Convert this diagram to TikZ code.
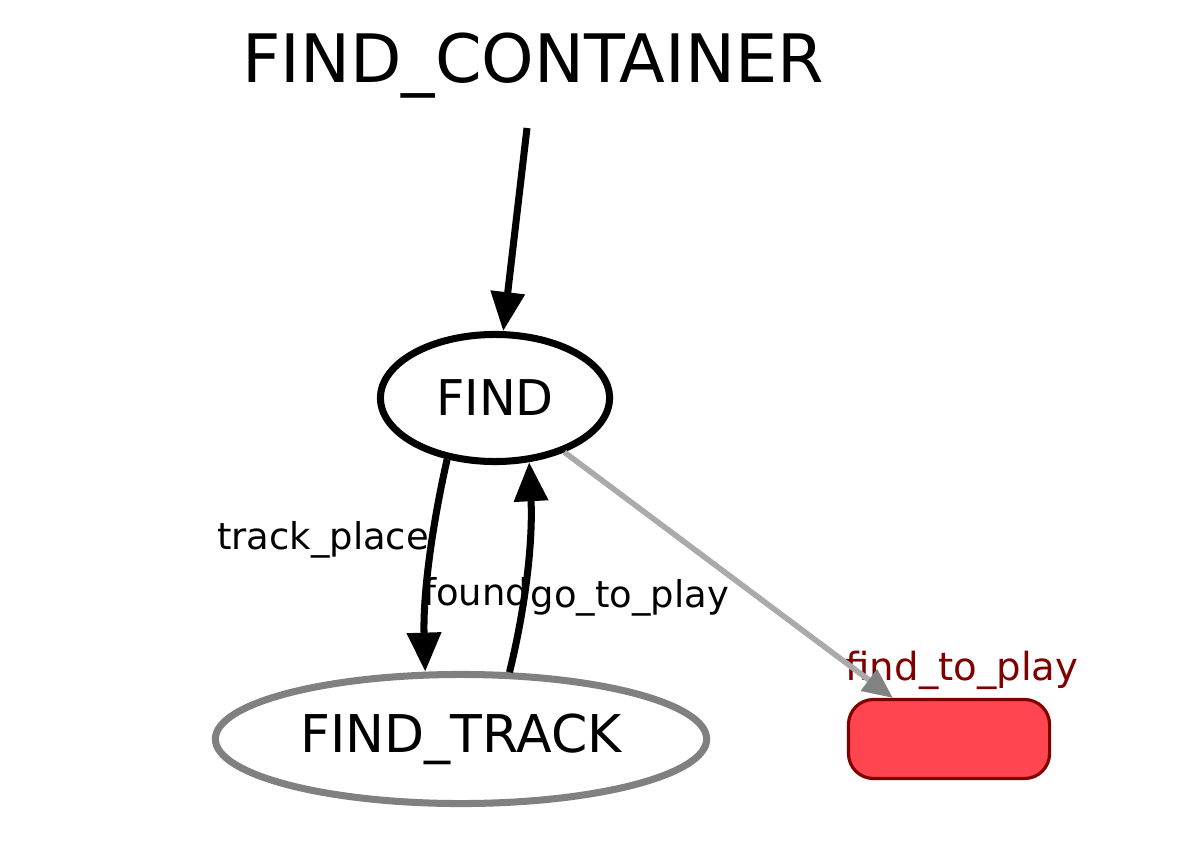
\documentclass[tikz,border=0pt]{standalone}
\usepackage{fontspec}
\setmainfont{DejaVu Sans}
\usetikzlibrary{arrows.meta,shapes.geometric,calc}
\definecolor{edgegray}{RGB}{170,170,170}
\definecolor{tipgray}{RGB}{130,130,130}
\definecolor{boxred}{RGB}{255,70,80}
\definecolor{darkred}{RGB}{128,0,0}
\definecolor{trackgray}{RGB}{128,128,128}
\tikzset{
  statenode/.style={ellipse, line width=2pt, inner sep=0pt},
  edgeline/.style={line width=2pt, -{Triangle[length=0.39cm,width=0.33cm]}},
  elabel/.style={font=\fontsize{10.5}{12}\selectfont, inner sep=0pt},
}
\begin{document}
\begin{tikzpicture}[x=0.01cm,y=-0.01cm]
\useasboundingbox (0,0) rectangle (1198,858);
\node[font=\fontsize{19}{22}\selectfont, inner sep=0pt] (title) at (533,66) {FIND\_CONTAINER};
\coordinate (start) at (527,128);
\node[statenode, draw=black, minimum width=2.29cm, minimum height=1.27cm, font=\fontsize{14}{16}\selectfont] (find) at (495,398) {FIND};
\node[statenode, draw=trackgray, minimum width=4.91cm, minimum height=1.29cm, font=\fontsize{14.8}{17}\selectfont] (ftrack) at (461,739) {FIND\_TRACK};
\node[draw=darkred, fill=boxred, line width=0.9pt, rounded corners=0.25cm, minimum width=2.01cm, minimum height=0.79cm, inner sep=0pt] (box) at (949,739) {};
\node[elabel, text=darkred, font=\fontsize{11}{13}\selectfont] (boxlabel) at (962,670) {find\_to\_play};

\draw[edgeline] (start) -- (find.83);
\draw[edgeline] (find.232) .. controls (430,535) and (423,600) .. (ftrack.118);
\draw[edgeline] (ftrack.54) .. controls (526,605) and (533,540) .. (find.298);
\draw[line width=1.6pt, edgegray, -{Triangle[length=0.3cm,width=0.26cm,fill=tipgray,color=tipgray]}] (find.322) -- ($(box.north west)+(46,0)$);

\node[elabel] (l1) at (323,540) {track\_place};
\node[elabel] (l2) at (476,592) {found};
\node[elabel] (l3) at (630,598) {go\_to\_play};
\end{tikzpicture}
\end{document}
